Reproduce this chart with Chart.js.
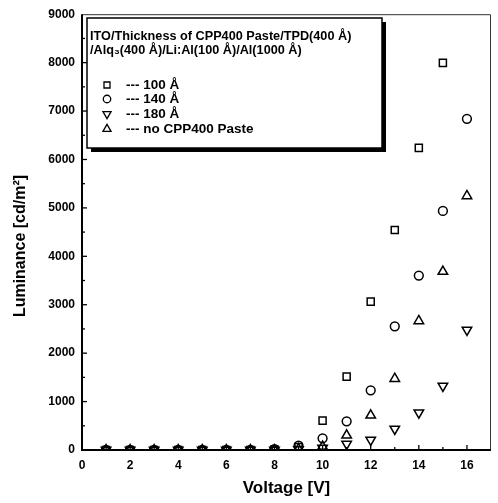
<!DOCTYPE html>
<html><head><meta charset="utf-8">
<script src="https://cdn.jsdelivr.net/npm/chart.js@4/dist/chart.umd.min.js"></script>
<style>html,body{margin:0;padding:0;background:#fff;}canvas{display:block;}</style>
</head><body>
<canvas id="c" width="498" height="503"></canvas>
<script>
// ---- data ----
const voltage = [1,2,3,4,5,6,7,8,9,10,11,12,13,14,15,16];
const lum100  = [0,0,0,0,0,0,0,10,60,606,1515,3064,4545,6240,7995];
const lum140  = [0,0,0,0,0,0,0,20,90,241,592,1233,2555,3602,4938,6839];
const lum180  = [0,0,0,0,0,0,0,0,10,40,124,207,434,771,1322,2479];
const lumNone = [0,0,0,0,0,0,0,0,20,70,303,716,1474,2665,3685,5248];
const seriesLabels = ['--- 100 Å','--- 140 Å','--- 180 Å','--- no CPP400 Paste'];
const legendTitle = ['ITO/Thickness of CPP400 Paste/TPD(400 Å)','/Alq₃(400 Å)/Li:Al(100 Å)/Al(1000 Å)'];
const xTitle = 'Voltage [V]';
const yTitle = 'Luminance [cd/m²]';
const xTicks = [0,2,4,6,8,10,12,14,16];
const yTicks = [0,1000,2000,3000,4000,5000,6000,7000,8000,9000];

const FAM = '"Liberation Sans", Arial, Helvetica, sans-serif';
Chart.defaults.font.family = FAM;
Chart.defaults.color = '#000';

function pts(vals){ return vals.map((v,i)=>({x:voltage[i], y:v})); }

const styles = [
  {pointStyle:'rect', radius:5, rotation:0},
  {pointStyle:'circle', radius:4.4, rotation:0},
  {pointStyle:'triangle', radius:5.5, rotation:180},
  {pointStyle:'triangle', radius:5.5, rotation:0}
];
const series = [lum100, lum140, lum180, lumNone];

const datasets = series.map((s,i)=>({
  label: seriesLabels[i],
  data: pts(s),
  showLine:false,
  pointStyle: styles[i].pointStyle,
  pointRadius: styles[i].radius,
  pointRotation: styles[i].rotation,
  pointBorderColor:'#000',
  pointBackgroundColor:'rgba(0,0,0,0)',
  pointBorderWidth:1.5,
  clip: {left:10, top:10, right:10, bottom:-1}
}));

function marker(ctx, st, x, y, r){
  ctx.beginPath();
  if (st.pointStyle==='rect'){
    const s=r*Math.SQRT1_2; ctx.rect(x-s,y-s,2*s,2*s);
  } else if (st.pointStyle==='circle'){
    ctx.arc(x,y,r,0,Math.PI*2);
  } else {
    const rot = st.rotation*Math.PI/180;
    for (let k=0;k<3;k++){
      const a = rot + k*2*Math.PI/3;
      const px = x + Math.sin(a)*r, py = y - Math.cos(a)*r;
      if(k===0) ctx.moveTo(px,py); else ctx.lineTo(px,py);
    }
    ctx.closePath();
  }
  ctx.stroke();
}

const decor = {
  id:'decor',
  afterDatasetsDraw(chart){
    const ctx = chart.ctx;
    const {left,right,top,bottom} = chart.chartArea;
    const xs = chart.scales.x, ys = chart.scales.y;
    ctx.save();
    // frame
    ctx.strokeStyle='#333'; ctx.lineWidth=1;
    ctx.beginPath(); ctx.moveTo(left,top+0.5); ctx.lineTo(right-0.5,top+0.5); ctx.lineTo(right-0.5,bottom); ctx.stroke();
    ctx.strokeStyle='#000'; ctx.lineWidth=2;
    ctx.beginPath(); ctx.moveTo(left,top); ctx.lineTo(left,bottom); ctx.lineTo(right,bottom); ctx.stroke();
    // inward ticks
    ctx.lineWidth=1.3;
    for (let v=1; v<=16; v++){
      const px = xs.getPixelForValue(v);
      const len = (v%2===0)?5:3;
      ctx.beginPath(); ctx.moveTo(px,bottom); ctx.lineTo(px,bottom-len); ctx.stroke();
    }
    for (let v=500; v<9000; v+=500){
      const py = ys.getPixelForValue(v);
      const len = (v%1000===0)?5:3;
      ctx.beginPath(); ctx.moveTo(left,py); ctx.lineTo(left+len,py); ctx.stroke();
    }
    // legend box with shadow
    const bx=87, by=18, bw=295, bh=130;
    ctx.fillStyle='#000'; ctx.fillRect(bx+4,by+4,bw,bh);
    ctx.fillStyle='#fff'; ctx.fillRect(bx,by,bw,bh);
    ctx.strokeStyle='#000'; ctx.lineWidth=1.5; ctx.strokeRect(bx,by,bw,bh);
    ctx.fillStyle='#000';
    ctx.font='bold 12.7px '+FAM;
    ctx.textAlign='left'; ctx.textBaseline='alphabetic';
    ctx.fillText(legendTitle[0], 90, 40);
    ctx.fillText(legendTitle[1], 90, 54);
    const ly=[85,99,114,129];
    ctx.textBaseline='middle';
    ctx.lineWidth=1.3;
    ctx.font='bold 13.5px '+FAM;
    for (let i=0;i<4;i++){
      marker(ctx, styles[i], 107, ly[i], styles[i].radius*0.85);
      ctx.fillText(seriesLabels[i], 126, ly[i]);
    }
    // y title
    ctx.translate(21, 246);
    ctx.rotate(-Math.PI/2);
    ctx.font='bold 16px '+FAM;
    ctx.textAlign='center'; ctx.textBaseline='middle';
    ctx.fillText(yTitle, 0, 0);
    ctx.restore();
  }
};

new Chart(document.getElementById('c'), {
  type:'scatter',
  data:{datasets},
  plugins:[decor],
  options:{
    responsive:false, animation:false,
    layout:{padding:{top:14,right:2,left:0,bottom:0}},
    plugins:{legend:{display:false}, tooltip:{enabled:false}},
    scales:{
      x:{type:'linear', min:0, max:17,
        afterFit(s){ s.height=53; },
        afterBuildTicks(s){ s.ticks = xTicks.map(v=>({value:v})); },
        grid:{display:false, drawTicks:false}, border:{display:false},
        ticks:{padding:8, maxRotation:0, autoSkip:false, color:'#000', font:{size:12, weight:'bold'}, callback:v=>String(v)},
        title:{display:true, text:xTitle, color:'#000', font:{size:17, weight:'bold'}, padding:{top:0,bottom:4}}
      },
      y:{type:'linear', min:0, max:9000,
        afterFit(s){ s.width=82; },
        afterBuildTicks(s){ s.ticks = yTicks.map(v=>({value:v})); },
        grid:{display:false, drawTicks:false}, border:{display:false},
        ticks:{padding:7, autoSkip:false, color:'#000', font:{size:12, weight:'bold'}, callback:v=>String(v)},
        title:{display:false}
      }
    }
  }
});
</script>
</body></html>
